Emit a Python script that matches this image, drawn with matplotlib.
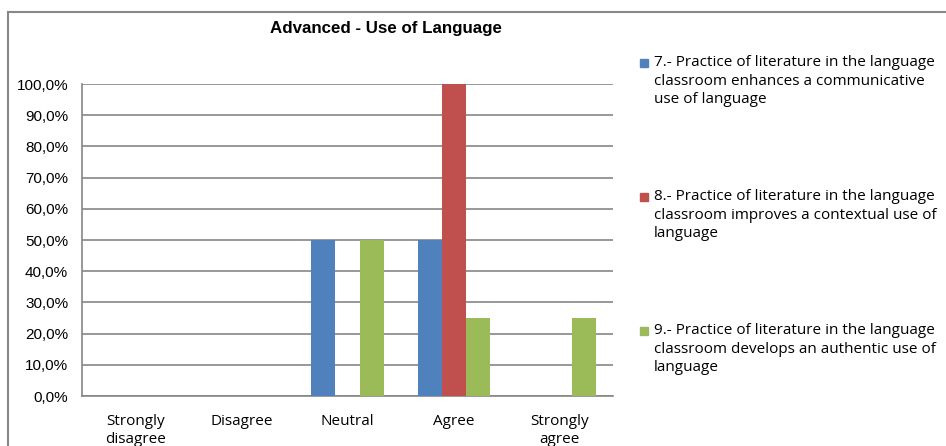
import matplotlib
matplotlib.use("Agg")
import matplotlib.pyplot as plt
from matplotlib.lines import Line2D
from matplotlib.patches import Rectangle
import numpy as np

categories = ["Strongly\ndisagree", "Disagree", "Neutral", "Agree", "Strongly\nagree"]
series_names = [
    "7.- Practice of literature in the language\nclassroom enhances a communicative\nuse of language",
    "8.- Practice of literature in the language\nclassroom improves a contextual use of\nlanguage",
    "9.- Practice of literature in the language\nclassroom develops an authentic use of\nlanguage",
]
q7 = [0.0, 0.0, 0.50, 0.50, 0.0]
q8 = [0.0, 0.0, 0.0, 1.00, 0.0]
q9 = [0.0, 0.0, 0.50, 0.25, 0.25]
yticks = [0.0, 0.1, 0.2, 0.3, 0.4, 0.5, 0.6, 0.7, 0.8, 0.9, 1.0]
title = "Advanced - Use of Language"

colors = ["#4F81BD", "#C0504D", "#9BBB59"]
W, H = 946, 446
fig = plt.figure(figsize=(W / 100, H / 100), dpi=100)
fig.patch.set_facecolor("white")

# outer chart frame
fig.add_artist(Line2D([8 / W, 8 / W], [0, 1 - 12 / H], color="#888888", lw=1.5, transform=fig.transFigure))
fig.add_artist(Line2D([8 / W, 1], [1 - 12 / H, 1 - 12 / H], color="#888888", lw=1.5, transform=fig.transFigure))

ax = fig.add_axes([82 / W, 1 - 396 / H, (613 - 82) / W, (396 - 84) / H])
x = np.arange(len(categories))
bw = 0.226
for i, (vals, c) in enumerate(zip([q7, q8, q9], colors)):
    ax.bar(x + (i - 1) * bw, vals, width=bw, color=c, zorder=3, linewidth=0)

ax.set_xlim(-0.5, len(categories) - 0.5)
ax.set_ylim(0, 1.0)
ax.set_yticks(yticks)
ax.set_yticklabels([f"{v * 100:.1f}%".replace(".", ",") for v in yticks],
                   fontsize=11, family="Liberation Sans")
ax.set_xticks(x)
ax.set_xticklabels(categories, fontsize=11, family="Open Sans", linespacing=1.25)
ax.tick_params(axis="x", length=0, pad=13)
ax.tick_params(axis="y", length=0, pad=10)
ax.yaxis.grid(True, color="#868686", lw=1.2, zorder=0)
for s in ["top", "right"]:
    ax.spines[s].set_visible(False)
ax.spines["left"].set_color("#868686")
ax.spines["bottom"].set_color("#868686")
ax.spines["left"].set_linewidth(1.2)
ax.spines["bottom"].set_linewidth(1.2)

fig.text(386 / W, 1 - 29 / H, title, ha="center", va="center", fontsize=12.2,
         fontweight="bold", family="Liberation Sans")

# legend
ys = [63, 197, 331]
for name, c, yy in zip(series_names, colors, ys):
    fig.add_artist(Rectangle((640 / W, 1 - (yy + 4) / H), 8 / W, 8 / H, color=c,
                             transform=fig.transFigure))
    fig.text(654 / W, 1 - (yy - 8) / H, name, ha="left", va="top", fontsize=11,
             family="Open Sans", linespacing=1.32)

fig.savefig("out.png", dpi=100)
